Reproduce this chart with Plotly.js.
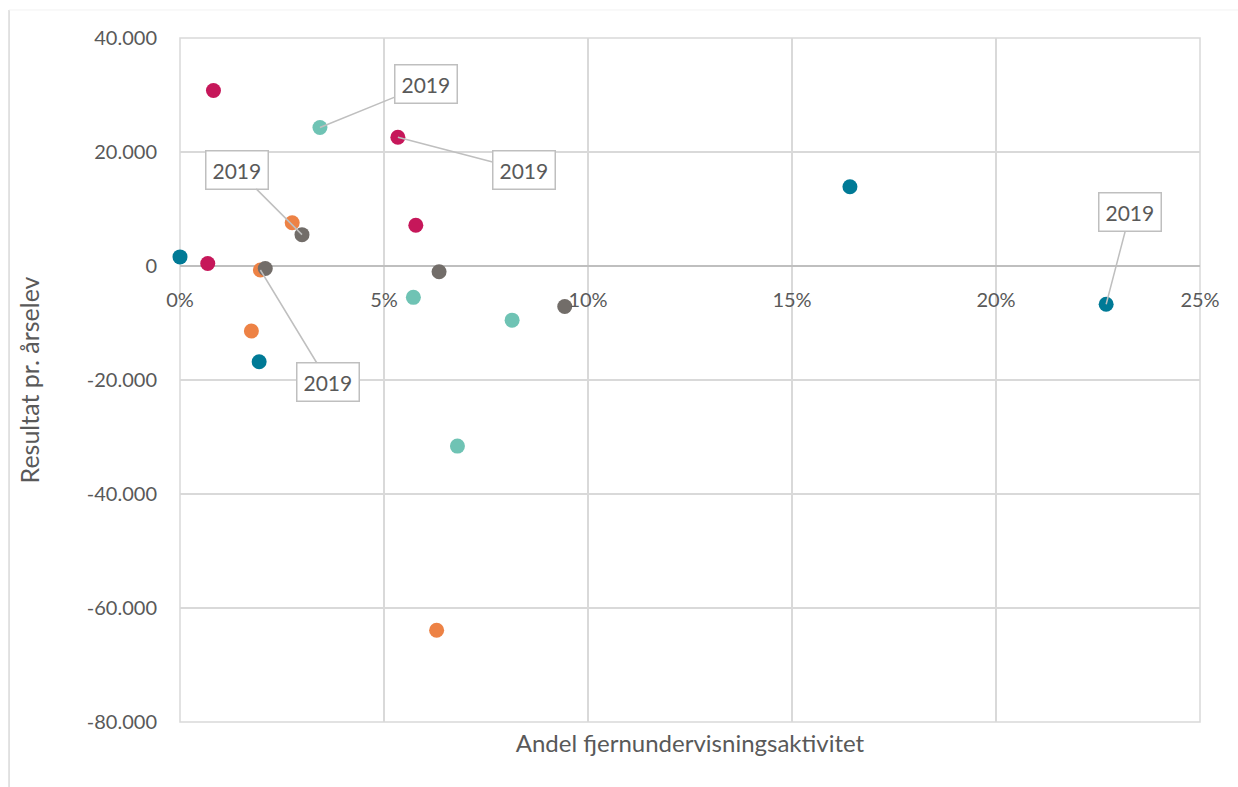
<!DOCTYPE html>
<html>
<head>
<meta charset="utf-8">
<script src="https://cdn.plot.ly/plotly-3.0.1.min.js"></script>
<style>html,body{margin:0;padding:0;background:#fff;}#chart{width:1238px;height:787px;}</style>
</head>
<body>
<div id="chart"></div>
<script>
// Data (x = share of distance-learning activity, y = result per student-year)
const seriesNames = ["Serie 1", "Serie 2", "Serie 3", "Serie 4", "Serie 5"];
const s1x = [0.0000, 0.0194, 0.1642, 0.2270];
const s1y = [1600, -16800, 13900, -6700];
const s2x = [0.0082, 0.0068, 0.0534, 0.0578];
const s2y = [30800, 450, 22600, 7150];
const s3x = [0.0275, 0.0197, 0.0175, 0.0629];
const s3y = [7600, -700, -11400, -63900];
const s4x = [0.0343, 0.0572, 0.0814, 0.0680];
const s4y = [24300, -5500, -9500, -31600];
const s5x = [0.0299, 0.0209, 0.0635, 0.0943];
const s5y = [5500, -450, -1000, -7100];
const labelText = "2019";
const labelX = [0.0343, 0.0534, 0.0299, 0.2270, 0.0197];
const labelY = [24300, 22600, 5500, -6700, -700];
const xTickVals = [0, 0.05, 0.10, 0.15, 0.20, 0.25];
const xTickText = ["0%", "5%", "10%", "15%", "20%", "25%"];
const yTickVals = [40000, 20000, 0, -20000, -40000, -60000, -80000];
const yTickText = ["40.000", "20.000", "0", "-20.000", "-40.000", "-60.000", "-80.000"];

const colors = ["#007A96", "#C6175A", "#ED8245", "#6FC3B4", "#726D69"];
const xs = [s1x, s2x, s3x, s4x, s5x];
const ys = [s1y, s2y, s3y, s4y, s5y];

const traces = xs.map((x, i) => ({
  type: "scatter", mode: "markers", name: seriesNames[i],
  x: x, y: ys[i],
  marker: {size: 15, color: colors[i]},
  showlegend: false, cliponaxis: false
}));

const font = "Lato, 'Open Sans', sans-serif";
const txt = "#595959";
const offsets = [[106, -43], [126, 33], [-65, -65], [24, -92], [68, 112]];
const annotations = labelX.map((x, i) => ({
  x: x, y: labelY[i], xref: "x", yref: "y",
  text: labelText, showarrow: true, arrowhead: 0, arrowwidth: 1.5,
  arrowcolor: "#BFBFBF", ax: offsets[i][0], ay: offsets[i][1],
  font: {family: font, size: 21, color: txt},
  bordercolor: "#BFBFBF", borderwidth: 1.5, borderpad: 6, bgcolor: "#ffffff"
}));

const layout = {
  width: 1238, height: 787,
  margin: {l: 180, r: 38, t: 38, b: 65},
  paper_bgcolor: "#ffffff", plot_bgcolor: "#ffffff",
  font: {family: font, size: 20, color: txt},
  xaxis: {
    range: [0, 0.25], tickvals: xTickVals, ticktext: xTickText,
    showgrid: true, gridcolor: "#D9D9D9", gridwidth: 1.5,
    zeroline: false, showline: false,
    anchor: "free", position: 0.6667,
    ticks: "outside", ticklen: 16, tickcolor: "rgba(0,0,0,0)",
    tickfont: {family: font, size: 20, color: txt},
    title: {text: "Andel fjernundervisningsaktivitet", font: {family: font, size: 24, color: txt}, standoff: 425},
    automargin: false, fixedrange: true
  },
  yaxis: {
    range: [-80000, 40000], tickvals: yTickVals, ticktext: yTickText,
    showgrid: true, gridcolor: "#D9D9D9", gridwidth: 1.5,
    zeroline: true, zerolinecolor: "#BFBFBF", zerolinewidth: 2,
    showline: false,
    ticks: "outside", ticklen: 18, tickcolor: "rgba(0,0,0,0)",
    tickfont: {family: font, size: 20, color: txt},
    title: {text: "Resultat pr. årselev", font: {family: font, size: 25, color: txt}, standoff: 40},
    automargin: false, fixedrange: true
  },
  shapes: [
    {type: "rect", xref: "paper", yref: "paper", x0: 0, x1: 1, y0: 0, y1: 1, layer: "below", line: {color: "#D9D9D9", width: 1.5}},
    {type: "line", xref: "paper", yref: "paper", x0: -0.1676, x1: -0.1676, y0: 1.041, y1: -0.1, line: {color: "#D9D9D9", width: 1.5}},
    {type: "line", xref: "paper", yref: "paper", x0: -0.1676, x1: 1.04, y0: 1.041, y1: 1.041, line: {color: "#F2F2F2", width: 1}}
  ],
  annotations: annotations,
  showlegend: false
};

Plotly.newPlot("chart", traces, layout, {displayModeBar: false, staticPlot: true});
</script>
</body>
</html>
